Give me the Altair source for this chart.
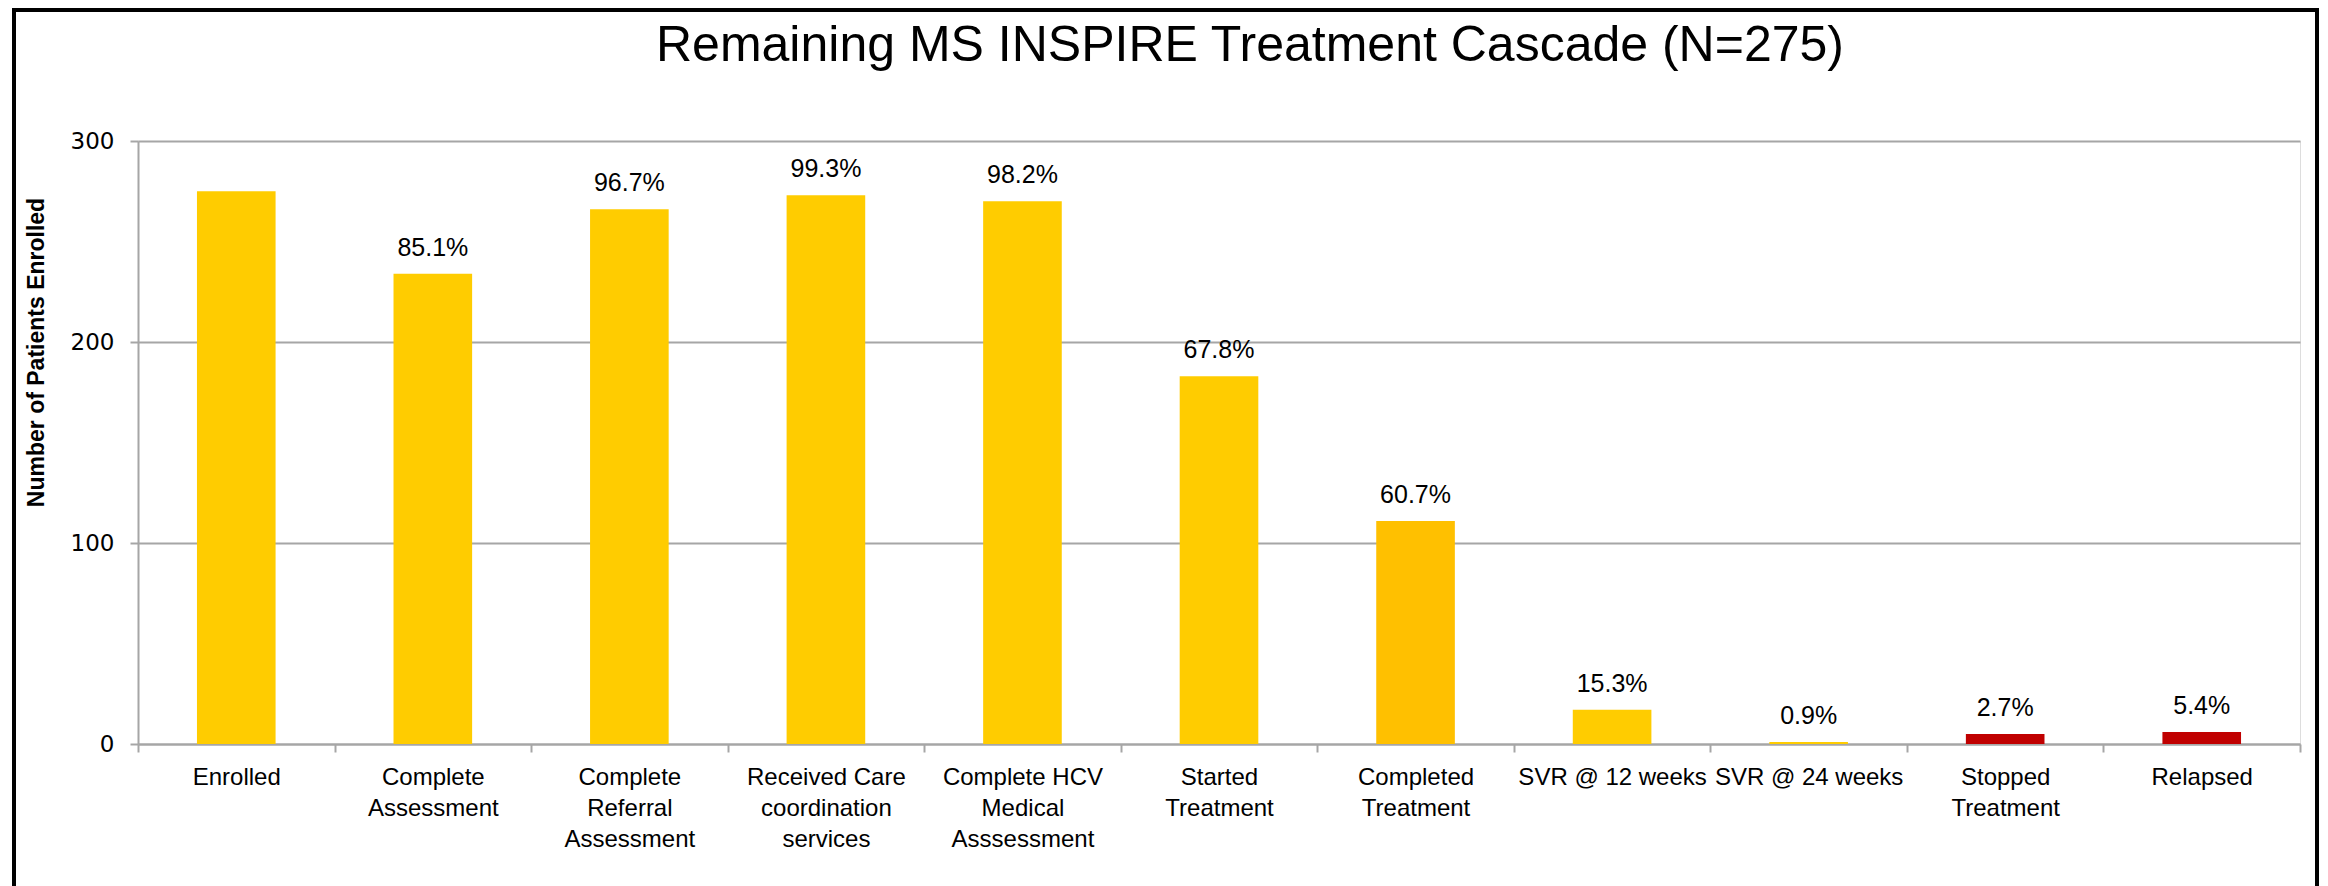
import altair as alt
import pandas as pd

stages = [
    "Enrolled",
    "Complete|Assessment",
    "Complete|Referral|Assessment",
    "Received Care|coordination|services",
    "Complete HCV|Medical|Asssessment",
    "Started|Treatment",
    "Completed|Treatment",
    "SVR @ 12 weeks",
    "SVR @ 24 weeks",
    "Stopped|Treatment",
    "Relapsed",
]
patients = [275, 234, 266, 273, 270, 183, 111, 17, 1, 5, 6]
pct_labels = ["", "85.1%", "96.7%", "99.3%", "98.2%", "67.8%", "60.7%",
              "15.3%", "0.9%", "2.7%", "5.4%"]
bar_colors = ["#FFCC00", "#FFCC00", "#FFCC00", "#FFCC00", "#FFCC00", "#FFCC00",
              "#FFC000", "#FFCC00", "#FFCC00", "#C00000", "#C00000"]
y_ticks = [0, 100, 200, 300]

df = pd.DataFrame({"stage": stages, "patients": patients,
                   "pct": pct_labels, "color": bar_colors})

W, H = 2162, 603
GRID = "#A6A6A6"

x_enc = alt.X(
    "stage:N", sort=stages,
    scale=alt.Scale(paddingInner=0, paddingOuter=0),
    axis=alt.Axis(
        title=None, labelAngle=0, tickBand="extent",
        labelExpr="split(datum.label, '|')",
        labelFont="Liberation Sans", labelFontSize=24, labelColor="#000000",
        labelLineHeight=31, labelPadding=13, labelLimit=400,
        tickSize=8, tickColor=GRID, tickWidth=2,
        domainColor=GRID, domainWidth=2, grid=False,
    ),
)
y_enc = alt.Y(
    "patients:Q",
    scale=alt.Scale(domain=[0, 300], nice=False),
    axis=alt.Axis(
        values=y_ticks, title="Number of Patients Enrolled",
        labelFont="DejaVu Sans", labelFontSize=23, labelColor="#000000",
        labelPadding=16, tickSize=8, tickColor=GRID, tickWidth=2,
        domainColor=GRID, domainWidth=2,
        grid=True, gridColor=GRID, gridWidth=2,
        titleFont="Liberation Sans", titleFontSize=23, titleFontWeight="bold",
        titleColor="#000000", titleAngle=270, titleX=-95, titleY=211,
        titleAlign="center", titleBaseline="alphabetic",
    ),
)

bars = alt.Chart(df).mark_bar(width=alt.RelativeBandSize(0.4)).encode(
    x=x_enc, y=y_enc, color=alt.Color("color:N", scale=None)
)

labels = alt.Chart(df).mark_text(
    dy=-18, baseline="alphabetic", align="center",
    font="Liberation Sans", fontSize=25, color="#000000"
).encode(x=alt.X("stage:N", sort=stages), y="patients:Q", text="pct:N")

frame = alt.Chart(pd.DataFrame({"k": [0]})).mark_rect(
    filled=False, stroke="#000000", strokeWidth=4
).encode(
    x=alt.value(-124), x2=alt.value(W + 17),
    y=alt.value(-131), y2=alt.value(H + 300)
)

chart = alt.layer(bars, labels, frame).properties(
    width=W, height=H,
    title=alt.TitleParams(
        text="Remaining MS INSPIRE Treatment Cascade (N=275)",
        font="Liberation Sans", fontSize=50, fontWeight="normal",
        color="#000000", anchor="middle", frame="group", dx=31, offset=-63,
    ),
    autosize=alt.AutoSizeParams(type="none"),
    padding={"left": 130, "top": 133, "right": 20, "bottom": 142},
).configure_view(strokeWidth=0).configure(background="#FFFFFF")

chart.save("out.html", embed_options={"renderer": "svg", "actions": False})
